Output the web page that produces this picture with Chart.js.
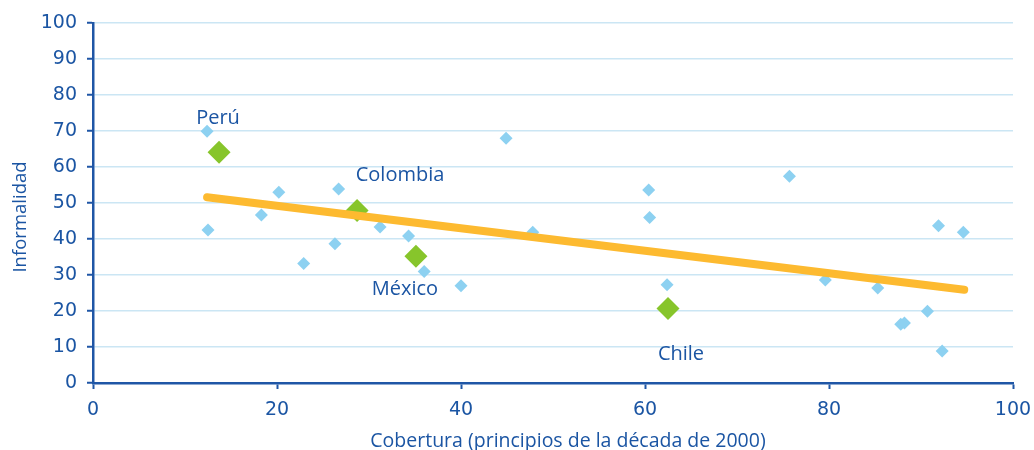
<!DOCTYPE html>
<html>
<head>
<meta charset="utf-8">
<script src="https://cdn.jsdelivr.net/npm/chart.js@4.4.1/dist/chart.umd.min.js"></script>
<style>
  html, body { margin: 0; padding: 0; background: #ffffff; }
  #wrap { width: 1034px; height: 450px; position: relative; }
</style>
</head>
<body>
<div id="wrap"><canvas id="c" width="1034" height="450"></canvas></div>
<script>
// Coverage (x) vs informality (y), early 2000s
const otherX = [12.4, 12.5, 18.3, 20.2, 22.9, 26.3, 26.7, 31.2, 34.3, 36.0, 40.0, 44.9, 47.8, 60.4, 60.5, 62.4, 75.7, 79.6, 85.3, 87.8, 88.2, 90.7, 91.9, 92.3, 94.6];
const otherY = [69.9, 42.5, 46.7, 53.0, 33.2, 38.7, 53.9, 43.3, 40.8, 31.0, 27.0, 68.0, 41.9, 53.6, 46.0, 27.3, 57.4, 28.6, 26.4, 16.3, 16.7, 19.9, 43.7, 8.9, 41.9];

const highlightNames = ['Perú', 'Colombia', 'México', 'Chile'];
const highlightX = [13.7, 28.7, 35.1, 62.5];
const highlightY = [64.1, 47.9, 35.2, 20.7];

// Fitted trend endpoints
const trendX = [12.4, 94.7];
const trendY = [51.6, 25.9];

const xTicks = [0, 20, 40, 60, 80, 100];
const yTicks = [0, 10, 20, 30, 40, 50, 60, 70, 80, 90, 100];

const xTitle = 'Cobertura (principios de la década de 2000)';
const yTitle = 'Informalidad';

const BLUE_TEXT = '#1b55a3';
const AXIS = '#1f56a6';
const GRID = '#cbe6f4';
const FONT = '"Open Sans", "Noto Sans", sans-serif';
const TICK_FONT = '"DejaVu Sans", "Open Sans", sans-serif';

const toPts = (xs, ys) => xs.map((x, i) => ({ x: x, y: ys[i] }));

// Placement of the country names around their markers
const nameOffsets = { 'Perú': [-1, -34], 'Colombia': [43, -35], 'México': [-11, 33], 'Chile': [13, 46] };

const annotate = {
  id: 'annotate',
  afterDatasetsDraw(chart) {
    const ctx = chart.ctx;
    const xs = chart.scales.x, ys = chart.scales.y;
    ctx.save();
    ctx.fillStyle = BLUE_TEXT;
    ctx.textAlign = 'center';
    ctx.textBaseline = 'middle';
    ctx.font = '500 20px ' + FONT;
    highlightNames.forEach((n, i) => {
      const off = nameOffsets[n];
      ctx.fillText(n, xs.getPixelForValue(highlightX[i]) + off[0], ys.getPixelForValue(highlightY[i]) + off[1]);
    });
    ctx.restore();
  },
  afterDraw(chart) {
    const ctx = chart.ctx;
    ctx.save();
    ctx.fillStyle = BLUE_TEXT;
    ctx.textAlign = 'center';
    ctx.textBaseline = 'middle';
    ctx.font = '500 19.5px ' + FONT;
    ctx.fillText(xTitle, 568, 441);
    ctx.font = '500 18.5px ' + FONT;
    ctx.translate(21, 217);
    ctx.rotate(-Math.PI / 2);
    ctx.fillText(yTitle, 0, 0);
    ctx.restore();
  }
};

new Chart(document.getElementById('c'), {
  type: 'scatter',
  data: {
    datasets: [
      {
        type: 'line',
        label: 'Tendencia',
        data: toPts(trendX, trendY),
        borderColor: '#fdba30',
        borderWidth: 8,
        borderCapStyle: 'round',
        pointRadius: 0,
        fill: false
      },
      {
        label: 'Países destacados',
        data: toPts(highlightX, highlightY),
        pointStyle: 'rectRot',
        pointRadius: 11.5,
        backgroundColor: '#87c52b',
        borderColor: '#87c52b',
        borderWidth: 0
      },
      {
        label: 'Otros países',
        data: toPts(otherX, otherY),
        pointStyle: 'rectRot',
        pointRadius: 6.5,
        backgroundColor: '#8dd1f1',
        borderColor: '#8dd1f1',
        borderWidth: 0
      }
    ]
  },
  options: {
    responsive: false,
    animation: false,
    layout: { padding: { top: 23, right: 21, left: 0, bottom: 0 } },
    plugins: { legend: { display: false }, tooltip: { enabled: false } },
    scales: {
      x: {
        type: 'linear',
        min: 0, max: 100,
        afterBuildTicks: s => { s.ticks = xTicks.map(v => ({ value: v })); },
        afterFit: s => { s.height = 67; s.paddingLeft = 0; s.paddingRight = 0; },
        grid: { drawOnChartArea: false, drawTicks: true, tickLength: 6, tickColor: AXIS, tickWidth: 2 },
        border: { display: true, color: AXIS, width: 2.5 },
        ticks: { color: BLUE_TEXT, font: { family: TICK_FONT, size: 19 }, padding: 10, maxRotation: 0 }
      },
      y: {
        type: 'linear',
        min: 0, max: 100,
        afterBuildTicks: s => { s.ticks = yTicks.map(v => ({ value: v })); },
        afterFit: s => { s.width = 93; s.paddingTop = 0; s.paddingBottom = 0; },
        grid: { color: GRID, lineWidth: 1.5, drawTicks: true, tickLength: 6, tickColor: AXIS, tickWidth: 2 },
        border: { display: true, color: AXIS, width: 2.5 },
        ticks: { color: BLUE_TEXT, font: { family: TICK_FONT, size: 19 }, padding: 10 }
      }
    }
  },
  plugins: [annotate]
});
</script>
</body>
</html>
